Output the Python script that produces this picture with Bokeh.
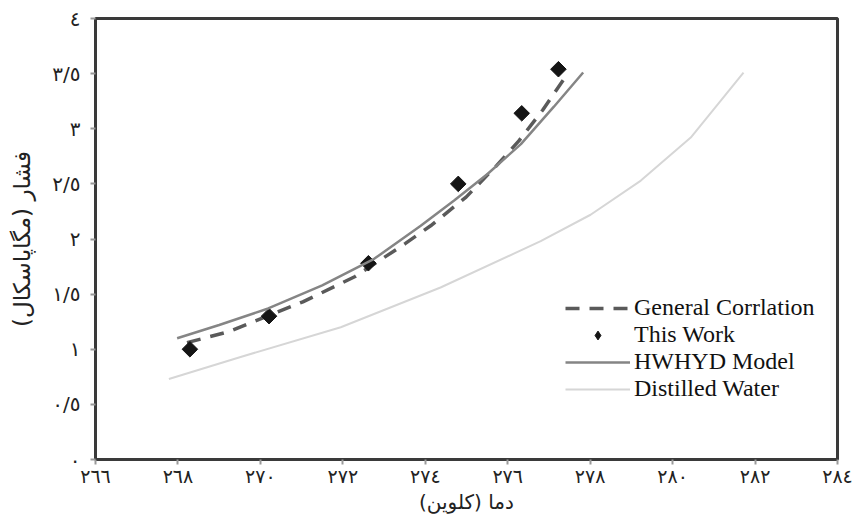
from bokeh.plotting import figure
from bokeh.models import Range1d, FixedTicker, Legend, LegendItem
from bokeh.embed import file_html
from bokeh.resources import INLINE

# ---- data ----
x_ticks = [266, 268, 270, 272, 274, 276, 278, 280, 282, 284]
x_tick_labels = ["٢٦٦", "٢٦٨", "٢٧٠", "٢٧٢", "٢٧٤", "٢٧٦", "٢٧٨", "٢٨٠", "٢٨٢", "٢٨٤"]
y_ticks = [0, 0.5, 1, 1.5, 2, 2.5, 3, 3.5, 4]
y_tick_labels = ["٠", "٠/٥", "١", "١/٥", "٢", "٢/٥", "٣", "٣/٥", "٤"]

this_work_T = [268.29, 270.21, 272.62, 274.80, 276.34, 277.23]
this_work_P = [1.00, 1.30, 1.78, 2.50, 3.14, 3.54]

general_T = [268.22, 269.24, 271.03, 272.30, 273.52, 274.13, 274.99, 275.74, 276.27, 276.85, 277.47]
general_P = [1.06, 1.16, 1.43, 1.66, 1.96, 2.12, 2.38, 2.67, 2.89, 3.17, 3.51]

hwhyd_T = [267.98, 269.00, 270.19, 271.50, 272.76, 273.89, 274.70, 275.51, 276.32, 277.12, 277.83]
hwhyd_P = [1.10, 1.22, 1.37, 1.58, 1.82, 2.12, 2.35, 2.59, 2.86, 3.20, 3.51]

distilled_T = [267.78, 269.52, 271.95, 274.37, 276.80, 278.01, 279.23, 280.44, 281.72]
distilled_P = [0.73, 0.93, 1.20, 1.56, 1.98, 2.22, 2.53, 2.92, 3.51]

x_title = "\u200fدما (کلوین)\u200f"
y_title = "\u200fفشار (مگاپاسکال)\u200f"
legend_labels = ["General Corrlation", "This Work", "HWHYD Model", "Distilled Water"]

# ---- figure ----
p = figure(width=862, height=516, output_backend="svg", toolbar_location=None,
           x_range=Range1d(266, 284), y_range=Range1d(0, 4),
           frame_width=742, frame_height=441,
           min_border_left=95, min_border_right=25, min_border_top=18, min_border_bottom=57)
p.background_fill_color = "white"
p.border_fill_color = "white"
p.grid.visible = False
p.outline_line_color = "#3a3a3a"
p.outline_line_width = 3

r_gen = p.line(general_T, general_P, line_color="#5a5a5a", line_width=3.5, line_dash="14 10")
r_tw = p.scatter(this_work_T, this_work_P, marker="square", angle=0.785398, size=11,
                 fill_color="#151515", line_color="#151515")
r_tw_leg = p.scatter(this_work_T, this_work_P, marker="diamond", size=12,
                     fill_color="#151515", line_color="#151515", visible=False)
r_hw = p.line(hwhyd_T, hwhyd_P, line_color="#858585", line_width=2.5)
r_dw = p.line(distilled_T, distilled_P, line_color="#d6d6d6", line_width=2)

ARABIC_FONT = "DejaVu Sans"
for ax in (p.xaxis[0], p.yaxis[0]):
    ax.axis_line_color = "#3a3a3a"
    ax.axis_line_width = 3
    ax.major_tick_line_color = "#999999"
    ax.major_tick_line_width = 2
    ax.major_tick_out = 5
    ax.major_tick_in = 0
    ax.minor_tick_line_color = None
    ax.major_label_text_font = ARABIC_FONT
    ax.major_label_text_color = "#222222"
    ax.axis_label_text_font = ARABIC_FONT
    ax.axis_label_text_font_style = "normal"
    ax.axis_label_text_color = "#222222"

p.yaxis.major_label_text_font_size = "20px"
p.xaxis.major_label_text_font_size = "19px"
p.yaxis.axis_label_text_font_size = "23px"
p.xaxis.axis_label_text_font_size = "20px"

p.xaxis.ticker = FixedTicker(ticks=x_ticks)
p.xaxis.major_label_overrides = {t: l for t, l in zip(x_ticks, x_tick_labels)}
p.yaxis.ticker = FixedTicker(ticks=y_ticks)
p.yaxis.major_label_overrides = {t: l for t, l in zip(y_ticks, y_tick_labels)}
p.xaxis.axis_label = x_title
p.yaxis.axis_label = y_title
p.xaxis.major_label_standoff = 0
p.xaxis.axis_label_standoff = 0
p.yaxis.major_label_standoff = 10
p.yaxis.axis_label_standoff = 14

legend = Legend(items=[LegendItem(label=legend_labels[0], renderers=[r_gen]),
                       LegendItem(label=legend_labels[1], renderers=[r_tw_leg]),
                       LegendItem(label=legend_labels[2], renderers=[r_hw]),
                       LegendItem(label=legend_labels[3], renderers=[r_dw])],
                location=(468, 55))
legend.label_text_font = "Liberation Serif"
legend.label_text_font_size = "24px"
legend.label_text_color = "#111111"
legend.glyph_width = 65
legend.glyph_height = 22
legend.label_height = 22
legend.label_standoff = 4
legend.spacing = 0
legend.padding = 2
legend.margin = 0
legend.border_line_alpha = 0
legend.background_fill_alpha = 0
p.add_layout(legend)

open("out.html", "w").write(file_html(p, INLINE))
